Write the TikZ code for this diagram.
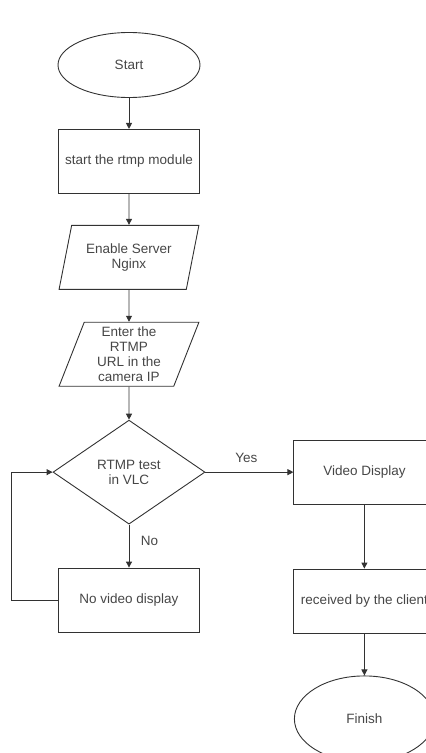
\documentclass[tikz,border=0pt]{standalone}
\usepackage{fontspec}
\setmainfont{Liberation Sans}
\usepackage{tikz}
\usetikzlibrary{shapes.geometric,arrows.meta,positioning}
\usepackage{xcolor}
\definecolor{ink}{RGB}{50,50,50}
\definecolor{txt}{RGB}{70,70,70}

\begin{document}
\begin{tikzpicture}[x=1pt,y=1pt,
  every node/.style={font=\fontsize{13.5}{15}\selectfont,text=txt},
  proc/.style={draw=ink,line width=0.9pt,minimum width=141pt,
    minimum height=64pt,align=center},
  term/.style={draw=ink,line width=0.9pt,ellipse,minimum width=142pt,
    minimum height=65pt},
  io/.style={draw=ink,line width=0.9pt,trapezium,trapezium left angle=72,
    trapezium right angle=108,trapezium stretches=true,minimum width=140pt,
    minimum height=64pt,align=center,inner sep=1pt},
  cond/.style={draw=ink,line width=0.9pt,diamond,minimum width=152pt,
    minimum height=104pt,align=center},
  flow/.style={draw=ink,line width=0.9pt,-{Triangle[length=6pt,width=6pt]}}]
\useasboundingbox (0,0) rectangle (426,-753);
\node[term] (S) at (129,-65) {Start};
\node[proc,below=31pt of S] (R) {start the rtmp module};
\node[io,below=31pt of R] (E) {Enable Server\\Nginx};
\node[io,below=32pt of E] (U) {Enter the\\RTMP\\URL in the\\camera IP};
\node[cond,below=33pt of U] (T) {RTMP test\\in VLC};
\node[proc,below=43pt of T] (N) {No video display};
\node[proc,right=88pt of T] (V) {Video Display};
\node[proc,below=64pt of V] (C) {received by the client};
\node[term,minimum width=140pt,minimum height=86pt,below=42pt of C] (F) {Finish};
\draw[flow] (S) -- (R);
\draw[flow] (R) -- (E);
\draw[flow] (E) -- (U);
\draw[flow] (U) -- (T);
\draw[flow] (T) -- node[right=8pt,yshift=5pt] {No} (N);
\draw[flow] (T) -- node[above=6pt,xshift=-3pt] {Yes} (V);
\draw[flow] (N.west) -- ++(-47,0) |- (T.west);
\draw[flow] (V) -- (C);
\draw[flow] (C) -- (F);
\end{tikzpicture}
\end{document}
